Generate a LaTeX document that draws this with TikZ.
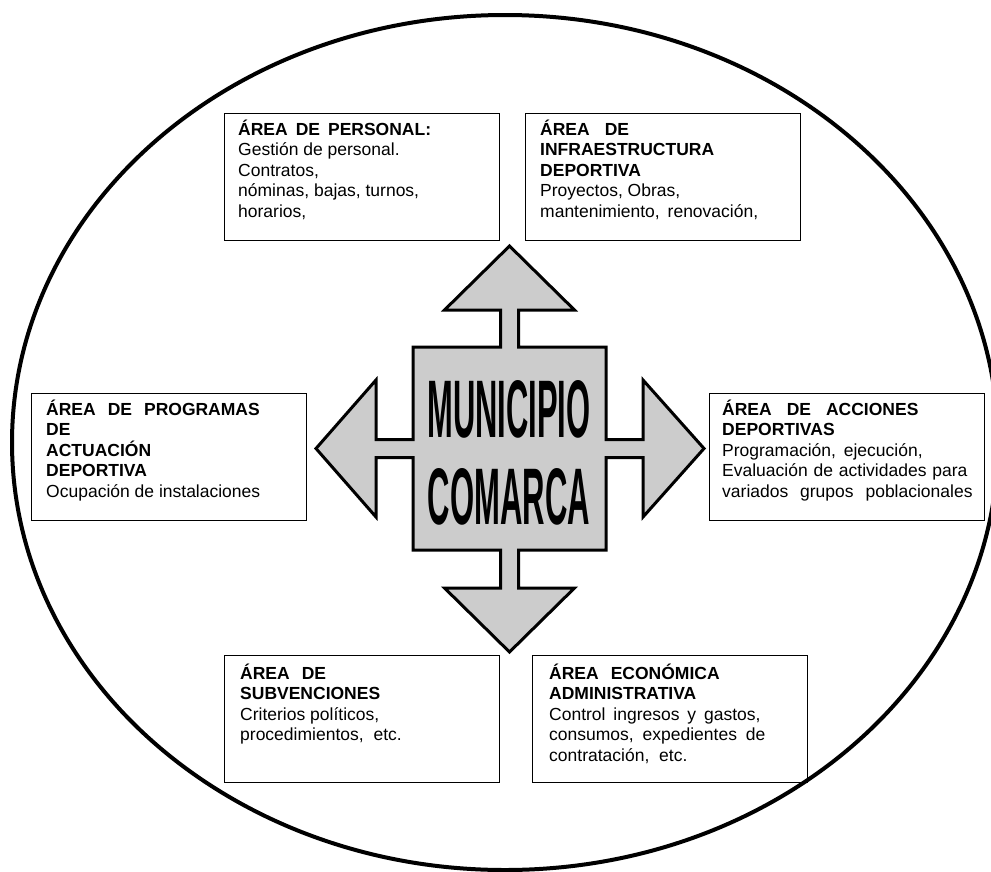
\documentclass[tikz,border=0pt]{standalone}
\usepackage{fontspec}
\setmainfont{Liberation Sans}
\usepackage{graphicx}
\newcommand{\firstln}{\rule{0pt}{17pt}}
\tikzset{
  areabox/.style={draw, line width=1.3pt, anchor=north west, minimum width=275pt,
    minimum height=127pt, inner sep=0pt},
  areatext/.style={anchor=north west, align=left, inner sep=0pt,
    font=\fontsize{17.5}{20.5}\selectfont},
  cross/.style={draw, line width=3pt, fill=black!20, line join=miter},
  bigtext/.style={inner sep=0pt}
}
\begin{document}
\begin{tikzpicture}[x=1pt,y=-1pt]
\useasboundingbox (0,0) rectangle (991,871);
\begin{scope}
\clip (0,0) rectangle (991,871);
\draw[line width=4pt] (505,442.5) ellipse [x radius=493, y radius=427.5];
\end{scope}
% boxes
\node[areabox] (pers) at (224,113) {};
\node[areabox] (infra) at (525,113) {};
\node[areabox] (prog) at (31,393) {};
\node[areabox] (acc) at (709,393) {};
\node[areabox] (subv) at (224,655) {};
\node[areabox] (econ) at (532,655) {};
% texts
\node[areatext] (perst) at ([xshift=14pt,yshift=-5pt]pers.north west)
  {\firstln\textbf{ÁREA\hspace{8pt}DE\hspace{8pt}PERSONAL:}\\Gestión de personal.\\Contratos,\\nóminas, bajas, turnos,\\horarios,};
\node[areatext] (infrat) at ([xshift=15pt,yshift=-5pt]infra.north west)
  {\firstln\textbf{ÁREA\hspace{15pt}DE}\\\textbf{INFRAESTRUCTURA}\\\textbf{DEPORTIVA}\\Proyectos, Obras,\\mantenimiento,\hspace{3pt} renovación,};
\node[areatext] (progt) at ([xshift=15pt,yshift=-5pt]prog.north west)
  {\firstln\textbf{ÁREA\hspace{12pt}DE\hspace{12pt}PROGRAMAS}\\\textbf{DE}\\\textbf{ACTUACIÓN}\\\textbf{DEPORTIVA}\\Ocupación de instalaciones};
\node[areatext] (acct) at ([xshift=13pt,yshift=-5pt]acc.north west)
  {\firstln\textbf{ÁREA\hspace{15pt}DE\hspace{15pt}ACCIONES}\\\textbf{DEPORTIVAS}\\Programación,\hspace{3pt} ejecución,\\Evaluación\hspace{1pt} de\hspace{1pt} actividades\hspace{1pt} para\\variados\hspace{7pt} grupos\hspace{7pt} poblacionales};
\node[areatext] (subvt) at ([xshift=16pt,yshift=-7pt]subv.north west)
  {\firstln\textbf{ÁREA\hspace{12pt}DE}\\\textbf{SUBVENCIONES}\\Criterios políticos,\\procedimientos,\hspace{5pt} etc.};
\node[areatext] (econt) at ([xshift=17pt,yshift=-7pt]econ.north west)
  {\firstln\textbf{ÁREA\hspace{12pt}ECONÓMICA}\\\textbf{ADMINISTRATIVA}\\Control\hspace{3pt} ingresos\hspace{3pt} y\hspace{3pt} gastos,\\consumos,\hspace{4pt} expedientes\hspace{4pt} de\\contratación,\hspace{5pt} etc.};
% central cross
\draw[cross] (509.5,246) -- (574.5,310) -- (518.5,310) -- (518.5,347) -- (606,347)
  -- (606,439.5) -- (643,439.5) -- (643,380) -- (704,448.5) -- (643,517) -- (643,457.5)
  -- (606,457.5) -- (606,550) -- (518.5,550) -- (518.5,588) -- (574.5,588) -- (509.5,652)
  -- (444.5,588) -- (500.5,588) -- (500.5,550) -- (413,550) -- (413,457.5) -- (376,457.5)
  -- (376,517) -- (316,448.5) -- (376,380) -- (376,439.5) -- (413,439.5) -- (413,347)
  -- (500.5,347) -- (500.5,310) -- (444.5,310) -- cycle;
\node[bigtext] (mun) at (509,409) {\resizebox{163pt}{57pt}{\bfseries MUNICIPIO}};
\node[bigtext] (com) at (509,497) {\resizebox{162pt}{56pt}{\bfseries COMARCA}};
\end{tikzpicture}
\end{document}
